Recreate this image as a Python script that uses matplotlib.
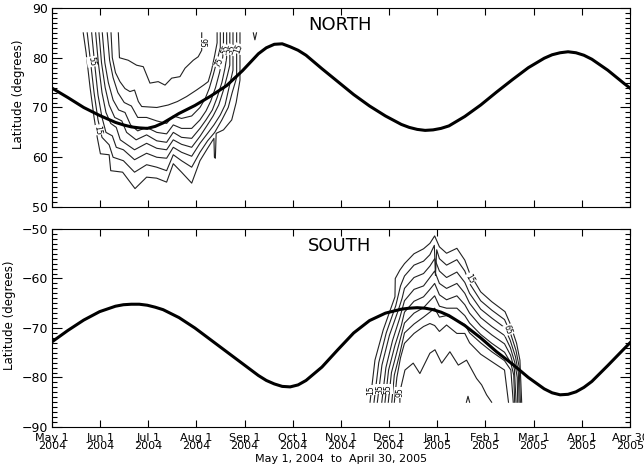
import numpy as np
import matplotlib
matplotlib.use('Agg')
import matplotlib.pyplot as plt
from matplotlib.ticker import MultipleLocator

# days since May 1, 2004
days = [0, 10, 20, 30, 40, 45, 50, 55, 60, 65, 70, 80, 90, 100, 110, 120, 130, 135, 140, 145, 150,
        155, 160, 170, 180, 190, 200, 210, 220, 225, 230, 235, 240, 245, 250, 260, 270, 280, 290,
        300, 310, 315, 320, 325, 330, 335, 340, 350, 360, 364]
north_curve = [73.9, 72.0, 70.0, 68.4, 67.0, 66.5, 66.1, 65.9, 65.8, 66.2, 66.9, 68.8, 70.4, 72.3,
               74.4, 77.4, 80.8, 82.0, 82.7, 82.8, 82.2, 81.5, 80.5, 77.8, 75.2, 72.6, 70.3, 68.3,
               66.6, 66.0, 65.6, 65.4, 65.5, 65.8, 66.3, 68.2, 70.5, 73.1, 75.6, 78.0, 79.9, 80.6,
               81.0, 81.2, 81.0, 80.5, 79.7, 77.5, 74.9, 73.9]
south_curve = [-72.8, -70.5, -68.4, -66.7, -65.6, -65.3, -65.2, -65.2, -65.4, -65.8, -66.3, -67.9,
               -70.0, -72.4, -74.8, -77.2, -79.6, -80.6, -81.3, -81.8, -81.9, -81.5, -80.6, -77.9,
               -74.4, -71.0, -68.5, -67.0, -66.2, -66.0, -65.9, -66.0, -66.3, -66.8, -67.5, -69.5,
               -72.0, -74.8, -77.3, -80.0, -82.3, -83.1, -83.5, -83.4, -82.9, -82.0, -80.8, -77.6,
               -74.3, -73.0]

tick_labels = ['May 1\n2004', 'Jun 1\n2004', 'Jul 1\n2004', 'Aug 1\n2004', 'Sep 1\n2004',
               'Oct 1\n2004', 'Nov 1\n2004', 'Dec 1\n2004', 'Jan 1\n2005', 'Feb 1\n2005',
               'Mar 1\n2005', 'Apr 1\n2005', 'Apr 30\n2005']

levels = [15, 25, 35, 45, 55, 65, 75, 85, 95]

# north contours (day, latitude), outermost level first
n15 = [(19.7, 85), (21.5, 81), (24, 74), (26.5, 68), (28.5, 64), (30.5, 60.7), (36, 60.5), (37, 57.3),
       (44.5, 57), (52.3, 53.7), (59.6, 56), (65.9, 55.8), (72.2, 55), (76.4, 58.7), (81.6, 57),
       (88, 54.8), (93.2, 59.3), (98, 61.8), (102, 63.8), (102.3, 60), (102.9, 59.8), (103.4, 64.8),
       (108, 65.5), (113.2, 67.5), (116, 71), (118.4, 75.5), (118.4, 85)]
n25 = [(22.2, 85), (24, 80), (26.5, 73), (29, 67.5), (31.5, 64), (36, 62.5), (38.5, 60), (45, 59.3),
       (52, 57), (59.6, 58.5), (66, 58), (72.2, 57.3), (76.4, 60.5), (81.6, 59.3), (88, 58), (93.2, 61),
       (98, 63.3), (102.5, 65), (107, 67.5), (111, 70), (113.5, 73), (116.3, 76), (116.3, 85)]
n35 = [(25, 85), (26.8, 79), (29, 72.5), (31.5, 68), (34, 65), (38, 64.3), (40.5, 62), (45, 61.5),
       (52, 59.5), (59.6, 60.8), (66, 60), (72.2, 59.8), (76.4, 62), (81.6, 61), (88, 60.2),
       (93.2, 62.8), (98, 64.8), (102, 66.5), (106, 68.5), (109, 70.5), (111.5, 74), (114, 77.5),
       (114, 85)]
n45 = [(27.5, 85), (29.2, 79), (31.5, 73), (34, 69), (37, 66.8), (40.5, 66), (43, 63.5), (52, 61.5),
       (59.6, 62.8), (66, 61.8), (72.2, 61.5), (76.4, 63.5), (81.6, 62.6), (88, 62), (93.2, 64.2),
       (97.5, 66.3), (101.5, 68.3), (105, 70.5), (108, 73.5), (110.5, 76.5), (112, 78.5), (112, 85)]
n55 = [(29.6, 85), (31.2, 79), (33.5, 74), (36, 70.5), (39.5, 68), (44, 67.3), (47, 65), (53, 63.5),
       (59.6, 64.5), (66, 63.3), (72.2, 63), (76.4, 65), (81.6, 64), (88, 63.8), (93.2, 65.8),
       (97, 67.5), (101, 69.5), (104, 72), (107, 75), (109, 78), (110, 80), (110, 85)]
n65 = [(31.7, 85), (33.3, 79), (35.5, 75), (38.5, 71.5), (42, 69.5), (46, 69), (49.5, 66.5),
       (54, 65.3), (59.6, 66), (66, 65), (72.2, 64.7), (76.4, 66.5), (81.6, 65.8), (88, 65.8),
       (93.2, 67.5), (97, 69.3), (100, 71.3), (103, 74), (105.5, 77), (107.5, 80), (108, 82), (108, 85)]
n75 = [(34.8, 85), (36.3, 79.5), (38.5, 76), (41.5, 73), (45.5, 71), (50, 70.3), (54, 68), (59.6, 68),
       (66, 67.3), (72.2, 66.8), (76.4, 68.3), (81.6, 67.8), (88, 68.3), (93.2, 70), (96.5, 71.8),
       (99, 73.8), (101.5, 76.5), (104, 79.5), (106, 82), (106, 85)]
n85 = [(37.2, 85), (38, 80), (40, 77), (42.8, 75.2), (46, 73.8), (49.1, 73.2), (52, 73.5), (54.4, 71.2),
       (56.5, 70.2), (66, 70), (73.2, 70.5), (79, 71.2), (84.8, 72.2), (91, 73.5), (95.5, 74.5),
       (98.4, 75.2), (100.5, 77.5), (102.5, 80.5), (104, 83), (104, 85)]
n95 = [(41.8, 85), (42.5, 80), (48, 79.5), (53.3, 78.5), (57.5, 78.2), (61.7, 74.9), (66.9, 75.2),
       (71.2, 74.5), (75.4, 75.9), (80.6, 76.2), (83.8, 77.9), (89, 79.5), (92.1, 80.2), (94.3, 81.5),
       (94.3, 85)]
n_small = [(126.8, 85), (127.8, 83.6), (128.8, 85)]

# south contours
s15 = [(200.3, -85), (203.4, -76.5), (208.6, -70.4), (216, -63.7), (216.2, -60), (219.1, -58.3),
       (222, -57), (228, -55), (234, -54), (238, -52.9), (241, -51.4), (244, -53.6), (248.5, -54.9),
       (255, -53.9), (260, -56.3), (263, -58.9), (270, -62.7), (277, -64.7), (285.3, -66.7),
       (288.4, -69), (292.6, -73.1), (294.7, -76.5), (295.8, -85)]
s25 = [(202.8, -85), (205.8, -77), (210.5, -71), (216.5, -65.5), (219.5, -61.5), (222, -59.5),
       (228, -57.3), (234, -56.5), (238, -55.2), (240.8, -53.3), (241.5, -59.4), (242.3, -54.2),
       (244, -56), (248.5, -57.3), (255, -56.2), (260, -58.5), (263, -61), (270, -64.5), (277, -66.4),
       (285, -68.3), (288.5, -70.8), (292.2, -74.5), (294.2, -77.8), (295, -85)]
s35 = [(204.9, -85), (207.8, -77.5), (212.5, -71.5), (218, -66.5), (220.5, -64), (222, -62),
       (228, -59.8), (234, -59), (238, -57.5), (241, -56), (244, -58.5), (248.5, -59.8), (255, -58.7),
       (260, -60.8), (263, -63), (270, -66.2), (277, -68), (285, -69.9), (288.6, -72.5),
       (291.9, -75.8), (293.7, -79), (294.2, -85)]
s45 = [(207.7, -85), (210.3, -78), (214.5, -72.5), (219, -68), (222, -64.5), (228, -62.2),
       (234, -61.5), (238, -59.8), (241, -58.5), (244, -61), (248.5, -62), (255, -61), (260, -63),
       (263, -65), (270, -67.9), (277, -69.7), (285, -71.5), (288.7, -74), (291.5, -77), (293, -80),
       (293.3, -85)]
s55 = [(209.7, -85), (212, -78.5), (216, -73.5), (220, -69.5), (222, -66.8), (228, -64.6),
       (234, -63.7), (238, -62.2), (241, -61), (244, -63.3), (248.5, -64.3), (255, -63.5),
       (260, -65.3), (263, -67), (270, -69.6), (277, -71.4), (285, -73.2), (288.8, -75.5),
       (291.2, -78.3), (292.3, -85)]
s65 = [(211.8, -85), (213.8, -79), (217.5, -74.5), (222, -69), (228, -67), (234, -65.9), (238, -64.5),
       (241, -63.5), (244, -65.6), (248.5, -66), (255, -66), (260, -67.5), (263, -69), (270, -71.3),
       (277, -73.1), (285, -74.9), (288.9, -77), (290.8, -79.5), (291.4, -85)]
s75 = [(214, -85), (215.6, -79.5), (218.8, -75.5), (222, -71), (228, -69.2), (234, -67.8),
       (238, -66.8), (241, -66), (244, -67.8), (248.5, -67.5), (255, -68.5), (260, -69.3),
       (263, -71), (270, -73), (277, -74.8), (285, -76.6), (289, -78.5), (290.5, -85)]
s85 = [(215.6, -85), (217.2, -80), (219.5, -76), (222, -73.1), (228, -71.1), (234, -69.7),
       (238, -69.1), (241, -69.5), (244, -70.7), (248.5, -69.4), (255, -71.1), (260, -71.1),
       (263, -73), (270, -75.3), (277, -76.8), (285, -78.5), (287.5, -85)]
s95 = [(219.1, -85), (219.1, -82.9), (222.3, -78.5), (227.5, -77.1), (231.7, -79.2), (238, -75.1),
       (241.2, -74.4), (245.4, -77.1), (250.6, -74.8), (255.9, -77.5), (261.1, -76.5),
       (267.4, -80.2), (270.6, -81.5), (273.7, -83.5), (276.9, -85)]
s_small = [(261, -85), (262, -83.8), (263, -85)]

north_contours = [n15, n25, n35, n45, n55, n65, n75, n85, n95, n_small]
south_contours = [s15, s25, s35, s45, s55, s65, s75, s85, s95, s_small]

# contour labels: text, day, lat, rotation
north_clabels = [('55', 25.0, 79.2, -80), ('15', 28.8, 65.5, -80), ('95', 94.3, 83.0, -90),
                 ('75', 105.2, 79.0, 65), ('55', 109.4, 81.6, 70), ('35', 113.0, 81.6, 70),
                 ('15', 117.6, 81.8, 70)]
south_clabels = [('15', 201.0, -82.5, 90), ('35', 206.4, -82.3, 90), ('55', 211.6, -82.3, 90),
                 ('95', 219.1, -83.0, 90), ('15', 263.0, -60.0, -60), ('65', 287.2, -70.4, -70)]


def style_axis(ax, ymin, ymax, label_x):
    ax.set_xlim(0, 364)
    ax.set_ylim(ymin, ymax)
    ax.set_xticks(np.linspace(0, 364, 13))
    ax.yaxis.set_major_locator(MultipleLocator(10))
    ax.yaxis.set_minor_locator(MultipleLocator(1))
    ax.tick_params(axis='both', which='both', direction='in', top=True, right=True, width=0.8)
    ax.tick_params(axis='y', which='major', length=7, labelsize=9, pad=3)
    ax.tick_params(axis='y', which='minor', length=3.5)
    ax.tick_params(axis='x', which='major', length=5, labelsize=8, pad=4)
    ax.set_ylabel('Latitude (degrees)', fontsize=8.5)
    ax.yaxis.set_label_coords(label_x, 0.565)
    for s in ax.spines.values():
        s.set_linewidth(0.8)


def draw_panel(ax, contours, clabels, curve, title):
    for c in contours:
        xs = [p[0] for p in c]
        ys = [p[1] for p in c]
        ax.plot(xs, ys, color='#222222', lw=0.8)
    for txt, x, y, rot in clabels:
        ax.text(x, y, txt, fontsize=5.5, rotation=rot, ha='center', va='center',
                bbox=dict(boxstyle='square,pad=0.05', fc='white', ec='none'))
    ax.plot(days, curve, color='black', lw=2.2, zorder=5)
    ax.text(0.498, 0.915, title, transform=ax.transAxes, fontsize=13, ha='center', va='center')


fig = plt.figure(figsize=(6.44, 4.75), dpi=100)
ax1 = fig.add_axes([0.0807, 0.5642, 0.8975, 0.419])
ax2 = fig.add_axes([0.0807, 0.1011, 0.8975, 0.4168])

style_axis(ax1, 50, 90, -0.046)
style_axis(ax2, -90, -50, -0.063)
ax1.set_yticks([50, 60, 70, 80, 90])
ax2.set_yticks([-90, -80, -70, -60, -50])
ax1.tick_params(axis='x', labelbottom=False)
ax2.set_xticklabels(tick_labels, linespacing=0.85)
ax2.set_xlabel('May 1, 2004  to  April 30, 2005', fontsize=8, labelpad=2)

draw_panel(ax1, north_contours, north_clabels, north_curve, 'NORTH')
draw_panel(ax2, south_contours, south_clabels, south_curve, 'SOUTH')

fig.savefig('out.png', dpi=100)
